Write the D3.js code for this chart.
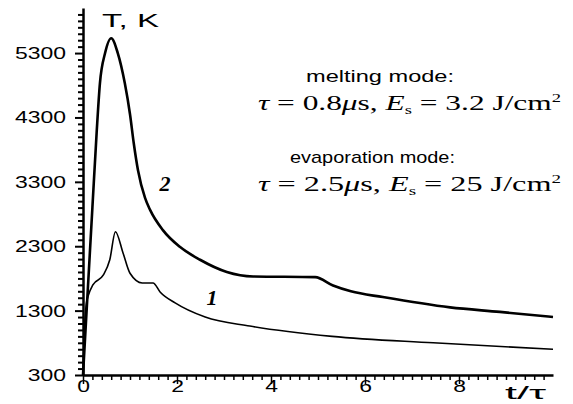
<!DOCTYPE html>
<html>
<head>
<meta charset="utf-8">
<script src="https://cdn.jsdelivr.net/npm/d3@7"></script>
<style>
  body { margin: 0; background: #fff; }
  svg { display: block; }
</style>
</head>
<body>
<div id="chart"></div>
<script>
// curve 1 : melting mode, (t/tau, T in K)
const curve1T = [0, 0.03, 0.07, 0.12, 0.21, 0.43, 0.57, 0.69, 0.85, 1.0, 1.26, 1.49, 1.64, 1.96, 2.6, 3.55, 5.3, 7.45, 10];
const curve1K = [300, 1000, 1400, 1550, 1700, 1850, 2090, 2525, 2200, 1880, 1730, 1730, 1590, 1420, 1200, 1060, 900, 800, 700];

// curve 2 : evaporation mode
const curve2T = [0, 0.2, 0.29, 0.36, 0.47, 0.6, 0.74, 0.89, 1.0, 1.08, 1.17, 1.32, 1.43, 1.7, 2.06, 2.49, 3.06, 3.62, 4.94, 5.32, 5.7, 6.38, 7.81, 8.87, 10];
const curve2K = [300, 2900, 4060, 4830, 5300, 5530, 5300, 4830, 4350, 3900, 3480, 3050, 2860, 2550, 2290, 2090, 1900, 1830, 1820, 1690, 1600, 1510, 1350, 1280, 1200];

const yLabels = [300, 1300, 2300, 3300, 4300, 5300];
const xLabels = [0, 2, 4, 6, 8];

window.onload = function () {
    drawChart();
};

function drawChart() {
    let width = 573, height = 404;
    let stretch = 1.35; // text in the original is wide

    let svg = d3.select("#chart")
        .append("svg")
        .attr("width", width)
        .attr("height", height);

    let x = d3.scaleLinear().domain([0, 10]).range([83, 553]);
    let y = d3.scaleLinear().domain([300, 6000]).range([375, 8]);

    // Y axis, a tick every 100 K
    let yAxis = svg.append("g")
        .attr("transform", "translate(" + x(0) + ",0)")
        .call(d3.axisLeft(y)
            .tickValues(d3.range(300, 6000, 100))
            .tickSize(5)
            .tickSizeOuter(0)
            .tickFormat(d => yLabels.includes(d) ? d : ""));
    yAxis.select(".domain").attr("stroke-width", 2.5);
    yAxis.selectAll(".tick line").attr("stroke-width", 2).attr("x2", d => yLabels.includes(d) ? -8 : -5);
    yAxis.selectAll("text")
        .attr("x", -12.5)
        .attr("transform", "scale(" + stretch + ",1)")
        .style("font-family", "Liberation Sans, Arial, sans-serif")
        .style("font-size", "17px")
        .attr("fill", "#000");

    // X axis, a tick every 0.2
    let xAxis = svg.append("g")
        .attr("transform", "translate(0," + y(300) + ")")
        .call(d3.axisBottom(x)
            .tickValues(d3.range(0, 9.95, 0.2))
            .tickSize(4)
            .tickSizeOuter(0)
            .tickFormat(d => xLabels.some(v => Math.abs(v - d) < 1e-6) ? Math.round(d) : ""));
    xAxis.select(".domain").attr("stroke-width", 2.5);
    xAxis.selectAll(".tick line").attr("stroke-width", 1.5)
        .attr("y2", d => xLabels.some(v => Math.abs(v - d) < 1e-6) ? 9 : 5);
    xAxis.selectAll("text")
        .attr("y", 5)
        .attr("transform", "scale(" + stretch + ",1)")
        .style("font-family", "Liberation Sans, Arial, sans-serif")
        .style("font-size", "17px")
        .attr("fill", "#000");

    // the curves
    let line = d3.line()
        .x(d => x(d[0]))
        .y(d => y(d[1]))
        .curve(d3.curveMonotoneX);

    let data1 = curve1T.map((t, i) => [t, curve1K[i]]);
    let data2 = curve2T.map((t, i) => [t, curve2K[i]]);

    svg.append("path")
        .datum(data1)
        .attr("d", line)
        .attr("fill", "none")
        .attr("stroke", "#000")
        .attr("stroke-width", 1.6);

    svg.append("path")
        .datum(data2)
        .attr("d", line)
        .attr("fill", "none")
        .attr("stroke", "#000")
        .attr("stroke-width", 2.6);

    // axis titles
    svg.append("text")
        .attr("x", 102).attr("y", 27)
        .attr("textLength", 57)
        .attr("lengthAdjust", "spacingAndGlyphs")
        .style("font-family", "Liberation Sans, Arial, sans-serif")
        .style("font-size", "18px")
        .text("T,  K");

    svg.append("text")
        .attr("x", 505).attr("y", 399)
        .attr("textLength", 41)
        .attr("lengthAdjust", "spacingAndGlyphs")
        .style("font-family", "Liberation Sans, Arial, sans-serif")
        .style("font-size", "18px")
        .text("t/τ");

    // curve numbers
    svg.append("text")
        .attr("x", 165).attr("y", 191)
        .attr("text-anchor", "middle")
        .style("font-family", "Liberation Serif, Times New Roman, serif")
        .style("font-style", "italic")
        .style("font-weight", "bold")
        .style("font-size", "22px")
        .text("2");

    svg.append("text")
        .attr("x", 212).attr("y", 305)
        .attr("text-anchor", "middle")
        .style("font-family", "Liberation Serif, Times New Roman, serif")
        .style("font-style", "italic")
        .style("font-weight", "bold")
        .style("font-size", "22px")
        .text("1");

    // mode captions
    function caption(txt, x0, y0, len) {
        svg.append("text")
            .attr("x", x0).attr("y", y0)
            .attr("textLength", len)
            .attr("lengthAdjust", "spacingAndGlyphs")
            .style("font-family", "Liberation Sans, Arial, sans-serif")
            .style("font-size", "17px")
            .text(txt);
    }

    function formula(tau, es, y0) {
        let t = svg.append("text")
            .attr("x", 258).attr("y", y0)
            .attr("textLength", 303)
            .attr("lengthAdjust", "spacingAndGlyphs")
            .style("font-family", "Liberation Serif, Times New Roman, serif")
            .style("font-size", "22px");
        t.append("tspan").style("font-style", "italic").text("τ");
        t.append("tspan").text("  =  " + tau);
        t.append("tspan").style("font-style", "italic").text("μ");
        t.append("tspan").text("s,  ");
        t.append("tspan").style("font-style", "italic").text("E");
        t.append("tspan").attr("dy", 4).style("font-size", "13px").text("s");
        t.append("tspan").attr("dy", -4).text(" = " + es + " J/cm");
        t.append("tspan").attr("dy", -8).style("font-size", "13px").text("2");
    }

    caption("melting mode:", 306, 82, 148);
    formula("0.8", "3.2", 110);
    caption("evaporation mode:", 290, 163, 165);
    formula("2.5", "25", 191);
}
</script>
</body>
</html>
